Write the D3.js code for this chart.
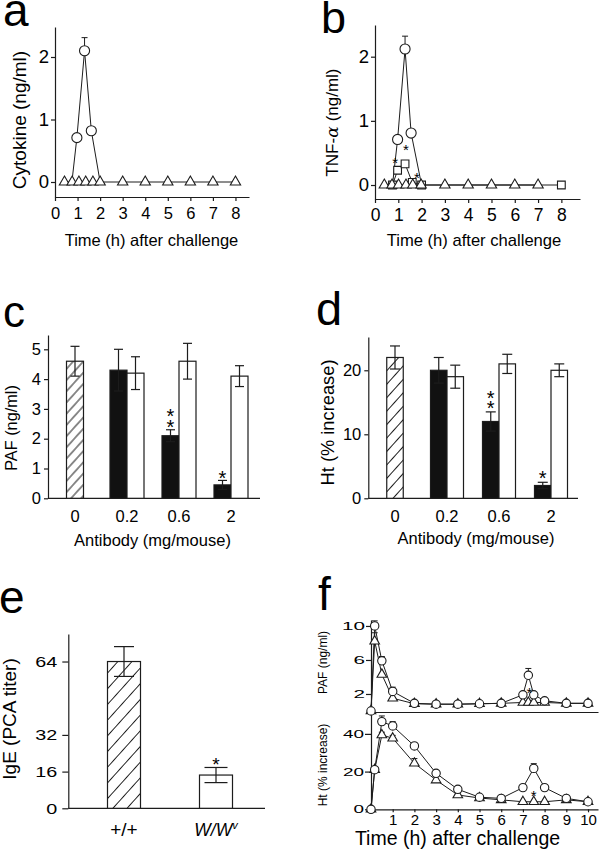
<!DOCTYPE html>
<html><head><meta charset="utf-8">
<script src="https://cdn.jsdelivr.net/npm/d3@7"></script>
<style>
body{margin:0;background:#fff;}
svg{display:block;font-family:"Liberation Sans",Arial,Helvetica,sans-serif;}
</style></head><body>
<svg id="fig" width="600" height="853"></svg>
<script>
// ================= DATA =================
const timeTicksAB = [0,1,2,3,4,5,6,7,8];
const ngTicks = [0,1,2];
// panel a : cytokine
const aCircleTime = [0.75, 0.97, 1.31, 1.61, 2];
const aCircleVal  = [0, 0.71, 2.1, 0.82, 0];
const aCircleErr  = [0, 0.03, 0.21, 0.05, 0];
const aTriTime = [0.42, 0.76, 1.06, 1.36, 1.68, 2, 3, 4, 5, 6, 7, 8];
const aTriVal  = [0, 0, 0, 0, 0, 0, 0, 0, 0, 0, 0, 0];
// panel b : TNF-alpha
const bCircleTime = [0.75, 0.97, 1.29, 1.55, 2];
const bCircleVal  = [0, 0.71, 2.12, 0.81, 0];
const bCircleErr  = [0, 0.03, 0.2, 0.05, 0];
const bSquareTime = [0.75, 0.97, 1.29, 1.6, 2, 3, 4, 5, 6, 7, 8];
const bSquareVal  = [0, 0.23, 0.33, 0.04, 0, 0, 0, 0, 0, 0, 0];
const bTriTime = [0.4, 0.73, 1.01, 1.33, 1.62, 1.98, 3, 4, 5, 6, 7];
const bTriVal  = [0, 0, 0, 0, 0, 0, 0, 0, 0, 0, 0];
const bStarTime = [0.87, 1.33, 1.8];
const bStarVal  = [0.4, 0.6, 0.16];
// panel c : PAF vs antibody
const abCats = ["0", "0.2", "0.6", "2"];
const cHatchVal = [4.6],  cHatchErr = [0.5];
const cBlackVal = [4.3, 2.1, 0.45], cBlackErr = [0.7, 0.2, 0.15];
const cWhiteVal = [4.2, 4.6, 4.1],  cWhiteErr = [0.55, 0.6, 0.35];
const cStars = ["", "**", "*"];
const cTicks = [0,1,2,3,4,5];
// panel d : Ht vs antibody
const dHatchVal = [22], dHatchErr = [1.8];
const dBlackVal = [20, 12, 2],  dBlackErr = [2, 1.5, 0.5];
const dWhiteVal = [19, 21, 20], dWhiteErr = [1.8, 1.5, 1.0];
const dStars = ["", "**", "*"];
const dTicks = [0,10,20];
// panel e : IgE
const eCats = ["+/+", "W/Wv"];
const eVal = [64, 14.5], eErr = [6.5, 3.3];
const eStars = ["", "*"];
const eTicks = [0,16,32,64];
// panel f : time course (top PAF, bottom Ht)
const fTimeTicks = [1,2,3,4,5,6,7,8,9,10];
const fPafTicks = [2,6,10];
const fHtTicks = [0,20,40];
const fPafCircleTime = [0, 0.17, 0.5, 1, 2, 3, 4, 5, 6, 7, 7.25, 7.5, 8, 9, 10];
const fPafCircleVal  = [0, 10, 5.9, 2.3, 0.9, 0.8, 0.8, 0.85, 0.9, 1.9, 4.2, 1.9, 1.2, 0.9, 0.9];
const fPafCircleErr  = [0, 0.6, 0.5, 0.5, 0, 0, 0, 0, 0, 0, 0.8, 0, 0, 0, 0];
const fPafTriTime = [0, 0.17, 0.5, 1, 2, 3, 4, 5, 6, 7, 7.25, 7.5, 8, 9, 10];
const fPafTriVal  = [0, 8.2, 4.3, 1.5, 0.85, 0.8, 0.8, 0.85, 0.9, 1.0, 1.0, 1.0, 1.0, 0.9, 0.9];
const fPafTriErr  = [0, 1.0, 0, 0, 0, 0, 0, 0, 0, 0, 0, 0, 0, 0, 0];
const fPafStar = [[7.3, 2.5]];
const fHtCircleTime = [0, 0.17, 0.5, 1, 2, 3, 4, 5, 6, 7, 7.5, 8, 9, 10];
const fHtCircleVal  = [0, 21, 46.5, 44.2, 33.6, 19.1, 10.6, 6.4, 5.8, 11.5, 21.7, 11.5, 5.8, 4.0];
const fHtCircleErr  = [0, 0, 3, 2.3, 1, 0, 0, 0, 0, 0, 2.5, 0, 0, 0];
const fHtTriTime = [0, 0.17, 0.5, 1, 2, 3, 4, 5, 6, 7, 7.5, 8, 9, 10];
const fHtTriVal  = [0, 21, 39.4, 37.7, 24.4, 15.5, 7.6, 6, 5, 4, 4, 4, 5, 4];
const fHtTriErr  = [0, 0, 1.5, 1.5, 2.5, 0, 0, 0, 0, 0, 0, 0, 0, 0];
const fHtStar = [[7.5, 8.8]];

// ================= DRAWING =================
const INK = "#1c1c1c";
const fmt = d3.format("d");
const svg = d3.select("#fig");
const defs = svg.append("defs");
function hatch(id, gap) {
  const p = defs.append("pattern").attr("id", id).attr("patternUnits", "userSpaceOnUse")
    .attr("width", gap).attr("height", gap).attr("patternTransform", "rotate(-48)");
  p.append("rect").attr("width", gap).attr("height", gap).attr("fill", "#fff");
  p.append("line").attr("x1", 0).attr("x2", gap).attr("y1", gap/2).attr("y2", gap/2)
    .attr("stroke", INK).attr("stroke-width", 1);
}
hatch("hatchC", 7.5); hatch("hatchD", 9); hatch("hatchE", 10.5);

function styleAxis(sel, fs) {
  sel.attr("font-size", null).attr("font-family", null);
  sel.selectAll("path.domain").attr("stroke", INK).attr("stroke-width", 1.2);
  sel.selectAll(".tick line").attr("stroke", INK).attr("stroke-width", 1.2);
  sel.selectAll(".tick text").attr("fill", "#000").attr("font-size", fs);
}
function label(g, txt, x, y, fs, rot) {
  const t = g.append("text").attr("font-size", fs).attr("fill", "#000").attr("text-anchor", "middle");
  if (rot) t.attr("transform", `translate(${x},${y}) rotate(-90)`); else t.attr("x", x).attr("y", y);
  t.text(txt);
  return t;
}
function panelLetter(txt, x, y, fs) {
  svg.append("text").attr("x", x).attr("y", y).attr("font-size", fs || 46).attr("fill", "#000").text(txt);
}
function star(g, txt, x, yc, fs, gap) {
  // asterisk(s) stacked vertically; glyph centre of the lowest at yc
  const t = g.append("text").attr("text-anchor", "middle").attr("font-size", fs).attr("fill", "#000");
  const n = txt.length;
  for (let k = 0; k < n; k++) {
    t.append("tspan").attr("x", x).attr("y", yc + 0.57 * fs - (n - 1 - k) * (gap || 11)).text("*");
  }
}
function linePath(g, times, vals, x, y) {
  g.append("path").datum(d3.zip(times, vals))
    .attr("d", d3.line().x(d => x(d[0])).y(d => y(d[1])))
    .attr("fill", "none").attr("stroke", INK).attr("stroke-width", 1);
}
function errUp(g, times, vals, errs, x, y, cap) {
  d3.zip(times, vals, errs).filter(d => d[2] > 0).forEach(d => {
    const cx = x(d[0]), y1 = y(d[1]), y2 = y(d[1] + d[2]);
    g.append("line").attr("x1", cx).attr("x2", cx).attr("y1", y1).attr("y2", y2).attr("stroke", INK);
    g.append("line").attr("x1", cx - cap/2).attr("x2", cx + cap/2).attr("y1", y2).attr("y2", y2).attr("stroke", INK);
  });
}
function marks(g, pts, x, y, type, size) {
  g.selectAll(null).data(pts).join("path")
    .attr("d", d3.symbol(type, size))
    .attr("transform", d => `translate(${x(d[0])},${y(d[1])})`)
    .attr("fill", "#fff").attr("stroke", INK).attr("stroke-width", 1.1);
}

// ---------- panel a ----------
{
  const g = svg.append("g");
  const x = d3.scaleLinear().domain([0, 8.6]).range([55, 249]);
  const y = d3.scaleLinear().domain([-0.24, 2.48]).range([197, 27]);
  g.append("g").attr("transform", `translate(0,${y.range()[0]})`)
    .call(d3.axisBottom(x).tickValues(timeTicksAB).tickFormat(fmt).tickSize(4).tickPadding(6).tickSizeOuter(0)).call(styleAxis, 16.5);
  g.append("g").attr("transform", `translate(${x.range()[0]},0)`)
    .call(d3.axisLeft(y).tickValues(ngTicks).tickFormat(fmt).tickSize(4).tickPadding(2).tickSizeOuter(0)).call(styleAxis, 18.5);
  linePath(g, aTriTime, aTriVal, x, y);
  linePath(g, aCircleTime, aCircleVal, x, y);
  errUp(g, aCircleTime, aCircleVal, aCircleErr, x, y, 6);
  marks(g, d3.zip(aCircleTime, aCircleVal).filter(d => d[1] > 0), x, y, d3.symbolCircle, 80);
  marks(g, d3.zip(aTriTime, aTriVal), x, y, d3.symbolTriangle, 46);
  label(g, "Cytokine (ng/ml)", 25.5, 120, 19, true);
  label(g, "Time (h) after challenge", 151.5, 246, 16.5);
  panelLetter("a", 3, 26);
}
// ---------- panel b ----------
{
  const g = svg.append("g");
  const x = d3.scaleLinear().domain([0, 8.8]).range([375, 580]);
  const y = d3.scaleLinear().domain([-0.218, 2.494]).range([199, 25]);
  g.append("g").attr("transform", `translate(0,${y.range()[0]})`)
    .call(d3.axisBottom(x).tickValues(timeTicksAB).tickFormat(fmt).tickSize(4).tickPadding(6).tickSizeOuter(0)).call(styleAxis, 17.5);
  g.append("g").attr("transform", `translate(${x.range()[0]},0)`)
    .call(d3.axisLeft(y).tickValues(ngTicks).tickFormat(fmt).tickSize(4).tickPadding(2).tickSizeOuter(0)).call(styleAxis, 18.5);
  linePath(g, bTriTime, bTriVal, x, y);
  linePath(g, bSquareTime, bSquareVal, x, y);
  linePath(g, bCircleTime, bCircleVal, x, y);
  errUp(g, bCircleTime, bCircleVal, bCircleErr, x, y, 6);
  marks(g, d3.zip(bCircleTime, bCircleVal).filter(d => d[1] > 0), x, y, d3.symbolCircle, 80);
  marks(g, d3.zip(bSquareTime, bSquareVal).filter(d => d[1] > 0 || !bTriTime.includes(d[0])), x, y, d3.symbolSquare, 60);
  marks(g, d3.zip(bTriTime, bTriVal), x, y, d3.symbolTriangle, 46);
  d3.zip(bStarTime, bStarVal).forEach(d => star(g, "*", x(d[0]), y(d[1]), 15));
  const t = g.append("text").attr("transform", "translate(338,122.5) rotate(-90)")
    .attr("text-anchor", "middle").attr("font-size", 17).attr("fill", "#000");
  t.append("tspan").text("TNF-");
  t.append("tspan").attr("font-family", "DejaVu Serif").attr("font-style", "italic").text("α");
  t.append("tspan").attr("dx", 5).text("(ng/ml)");
  label(g, "Time (h) after challenge", 474, 245.5, 16.6);
  panelLetter("b", 321, 33, 45);
}
// ---------- bar panel helper ----------
function barPanel(o) {
  const g = svg.append("g");
  const y = d3.scaleLinear().domain(o.yDomain).range(o.yRange);
  const x = d3.scaleBand().domain(abCats).range(o.xRange);
  const cx = c => x(c) + x.bandwidth() / 2;
  const bw = o.barW;
  g.append("g").attr("transform", `translate(${o.axisX},0)`)
    .call(d3.axisLeft(y).tickValues(o.ticks).tickFormat(fmt).tickSize(4).tickPadding(3).tickSizeOuter(0)).call(styleAxis, o.tickFs);
  g.append("line").attr("x1", o.axisX).attr("x2", o.xEnd).attr("y1", y(0)).attr("y2", y(0))
    .attr("stroke", INK).attr("stroke-width", 1.2);
  const bars = [];
  o.hatchVal.forEach((v, i) => bars.push({c: abCats[i], x0: cx(abCats[i]) - bw/2, v, e: o.hatchErr[i], fill: `url(#${o.hatch})`}));
  o.blackVal.forEach((v, i) => bars.push({c: abCats[i+1], x0: cx(abCats[i+1]) - bw, v, e: o.blackErr[i], fill: "#111", star: o.stars[i]}));
  o.whiteVal.forEach((v, i) => bars.push({c: abCats[i+1], x0: cx(abCats[i+1]), v, e: o.whiteErr[i], fill: "#fff"}));
  g.selectAll(null).data(bars).join("rect")
    .attr("x", d => d.x0).attr("width", bw)
    .attr("y", d => y(d.v)).attr("height", d => y(0) - y(d.v))
    .attr("fill", d => d.fill).attr("stroke", INK).attr("stroke-width", 1.2);
  bars.forEach(d => {
    const m = d.x0 + bw/2;
    g.append("line").attr("x1", m).attr("x2", m).attr("y1", y(d.v - d.e)).attr("y2", y(d.v + d.e)).attr("stroke", INK).attr("stroke-width", 1.2);
    [d.v - d.e, d.v + d.e].forEach(vv => g.append("line").attr("x1", m - o.cap/2).attr("x2", m + o.cap/2)
      .attr("y1", y(vv)).attr("y2", y(vv)).attr("stroke", INK).attr("stroke-width", 1.2));
    if (d.star) star(g, d.star, m, y(d.v + d.e) - o.starOff, 20, o.starGap);
  });
  g.append("g").attr("transform", `translate(0,${y(0)})`)
    .call(d3.axisBottom(x).tickSize(0).tickPadding(11.7)).call(styleAxis, 16.5)
    .call(s => s.select(".domain").remove());
  return g;
}
// ---------- panel c ----------
{
  const g = barPanel({yDomain: [0, 5.48], yRange: [498.3, 335], xRange: [49, 257], axisX: 48, xEnd: 260,
    ticks: cTicks, tickFs: 16.5, barW: 17, cap: 9, hatch: "hatchC",
    hatchVal: cHatchVal, hatchErr: cHatchErr, blackVal: cBlackVal, blackErr: cBlackErr,
    whiteVal: cWhiteVal, whiteErr: cWhiteErr, stars: cStars, starOff: 7, starGap: 11});
  label(g, "PAF (ng/ml)", 17, 428, 16.3, true);
  label(g, "Antibody (mg/mouse)", 152.5, 546, 16.5);
  panelLetter("c", 3, 327, 44);
}
// ---------- panel d ----------
{
  const g = barPanel({yDomain: [0, 25.2], yRange: [498.3, 337], xRange: [369, 577], axisX: 368.3, xEnd: 578,
    ticks: dTicks, tickFs: 16.5, barW: 16.5, cap: 10, hatch: "hatchD",
    hatchVal: dHatchVal, hatchErr: dHatchErr, blackVal: dBlackVal, blackErr: dBlackErr,
    whiteVal: dWhiteVal, whiteErr: dWhiteErr, stars: dStars, starOff: 8.5, starGap: 10});
  label(g, "Ht (% increase)", 334, 422.5, 18.3, true);
  label(g, "Antibody (mg/mouse)", 476, 544, 16.5);
  panelLetter("d", 316, 325, 47);
}
// ---------- panel e ----------
{
  const g = svg.append("g");
  const y = d3.scaleLinear().domain([0, 76]).range([808.3, 634]);
  const x = d3.scalePoint().domain(eCats).range([124, 216]);
  g.append("g").attr("transform", "translate(68.3,0)")
    .call(d3.axisLeft(y).tickValues(eTicks).tickFormat(fmt).tickSize(6).tickPadding(5).tickSizeOuter(0)).call(styleAxis, 15)
    .call(s => s.selectAll(".tick text").attr("textLength", d => String(d).length * 11).attr("lengthAdjust", "spacingAndGlyphs"));
  g.append("line").attr("x1", 68.3).attr("x2", 265).attr("y1", y(0)).attr("y2", y(0)).attr("stroke", INK).attr("stroke-width", 1.2);
  const bw = 33;
  const fills = [`url(#hatchE)`, "#fff"];
  eCats.forEach((c, i) => {
    const m = x(c);
    g.append("rect").attr("x", m - bw/2).attr("width", bw).attr("y", y(eVal[i])).attr("height", y(0) - y(eVal[i]))
      .attr("fill", fills[i]).attr("stroke", INK).attr("stroke-width", 1.2);
    const cap = i === 0 ? 20 : 23;
    g.append("line").attr("x1", m).attr("x2", m).attr("y1", y(eVal[i] - eErr[i])).attr("y2", y(eVal[i] + eErr[i])).attr("stroke", INK).attr("stroke-width", 1.2);
    [eVal[i] - eErr[i], eVal[i] + eErr[i]].forEach(vv => g.append("line").attr("x1", m - cap/2).attr("x2", m + cap/2)
      .attr("y1", y(vv)).attr("y2", y(vv)).attr("stroke", INK).attr("stroke-width", 1.2));
    if (eStars[i]) star(g, eStars[i], m, y(eVal[i] + eErr[i]) - 7.5, 19);
  });
  g.append("text").attr("x", x(eCats[0])).attr("y", 836).attr("text-anchor", "middle").attr("font-size", 19).attr("fill", "#000").text("+/+");
  const t = g.append("text").attr("x", x(eCats[1])).attr("y", 836).attr("text-anchor", "middle").attr("font-size", 17.5).attr("fill", "#000");
  t.append("tspan").attr("font-style", "italic").text("W/W");
  t.append("tspan").attr("font-style", "italic").attr("font-size", 11).attr("dy", -7).text("v");
  label(g, "IgE (PCA titer)", 15.6, 719, 19, true);
  panelLetter("e", -1, 613);
}
// ---------- panel f ----------
{
  const g = svg.append("g");
  const x = d3.scaleLinear().domain([0, 10.46]).range([371, 598]);
  const yt = d3.scaleLinear().domain([-0.12, 10.7]).range([712, 620]);
  const yb = d3.scaleLinear().domain([0, 51.6]).range([809.3, 712]);
  g.append("g").attr("transform", `translate(0,${yb.range()[0]})`)
    .call(d3.axisBottom(x).tickValues(fTimeTicks).tickFormat(fmt).tickSize(3).tickPadding(2).tickSizeOuter(0)).call(styleAxis, 15);
  g.append("g").attr("transform", `translate(0,${yt.range()[0]})`)
    .call(d3.axisBottom(x).tickValues([]).tickSizeOuter(0)).call(styleAxis, 15);
  g.append("g").attr("transform", `translate(${x.range()[0]},0)`)
    .call(d3.axisLeft(yt).tickValues(fPafTicks).tickFormat(fmt).tickSize(5).tickPadding(1).tickSizeOuter(0)).call(styleAxis, 11.5)
    .call(s => s.selectAll(".tick text").attr("textLength", d => String(d).length * 11.5).attr("lengthAdjust", "spacingAndGlyphs"));
  g.append("g").attr("transform", `translate(${x.range()[0]},0)`)
    .call(d3.axisLeft(yb).tickValues(fHtTicks).tickFormat(fmt).tickSize(6).tickPadding(1).tickSizeOuter(0)).call(styleAxis, 11.5)
    .call(s => s.selectAll(".tick text").attr("textLength", d => String(d).length * 10.5).attr("lengthAdjust", "spacingAndGlyphs"));
  // top PAF
  linePath(g, fPafTriTime, fPafTriVal, x, yt);
  linePath(g, fPafCircleTime, fPafCircleVal, x, yt);
  errUp(g, fPafTriTime, fPafTriVal, fPafTriErr, x, yt, 6);
  errUp(g, fPafCircleTime, fPafCircleVal, fPafCircleErr, x, yt, 6);
  marks(g, d3.zip(fPafTriTime, fPafTriVal), x, yt, d3.symbolTriangle, 40);
  marks(g, d3.zip(fPafCircleTime, fPafCircleVal), x, yt, d3.symbolCircle, 55);
  fPafStar.forEach(d => star(g, "*", x(d[0]), yt(d[1]), 15));
  // bottom Ht
  linePath(g, fHtTriTime, fHtTriVal, x, yb);
  linePath(g, fHtCircleTime, fHtCircleVal, x, yb);
  errUp(g, fHtTriTime, fHtTriVal, fHtTriErr, x, yb, 6);
  errUp(g, fHtCircleTime, fHtCircleVal, fHtCircleErr, x, yb, 6);
  marks(g, d3.zip(fHtTriTime, fHtTriVal), x, yb, d3.symbolTriangle, 40);
  marks(g, d3.zip(fHtCircleTime, fHtCircleVal), x, yb, d3.symbolCircle, 55);
  fHtStar.forEach(d => star(g, "*", x(d[0]), yb(d[1]), 15));
  label(g, "PAF (ng/ml)", 327, 662.5, 12, true);
  label(g, "Ht (% increase)", 327, 765, 12, true);
  label(g, "Time (h) after challenge", 457.5, 845, 19.5);
  panelLetter("f", 318, 610);
}
</script>
</body></html>
